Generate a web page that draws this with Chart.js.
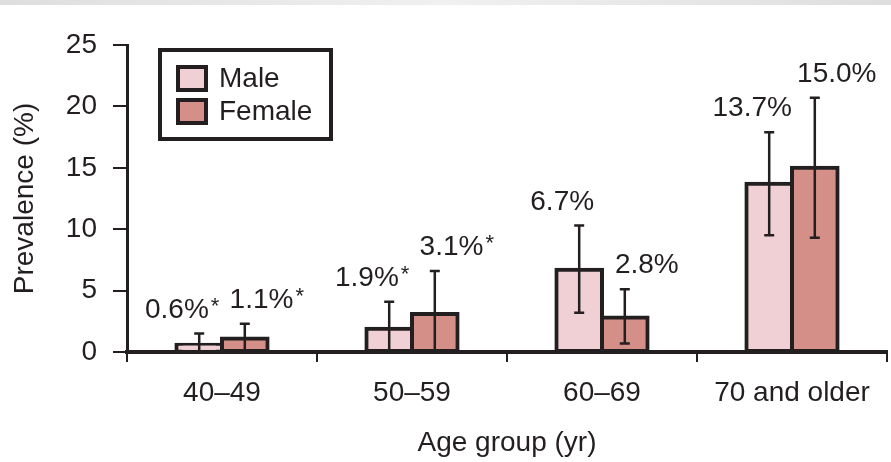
<!DOCTYPE html>
<html lang="en">
<head>
<meta charset="UTF-8">
<title>Prevalence by age group</title>
<script src="https://cdn.jsdelivr.net/npm/chart.js"></script>
<style>
  html, body { margin: 0; padding: 0; background: #ffffff; }
  .wrap { position: relative; width: 891px; height: 462px; }
  .strip { position: absolute; left: 0; top: 0; width: 891px; height: 5px;
           background: linear-gradient(to right, #dedede, #f0f0f0 50%, #dedede); }
</style>
</head>
<body>
<div class="wrap">
  <canvas id="chart" width="891" height="462"></canvas>
  <div class="strip"></div>
</div>
<script>
// data
const ageGroups = ['40\u201349', '50\u201359', '60\u201369', '70 and older'];
const maleValues = [0.6, 1.9, 6.7, 13.7];
const femaleValues = [1.1, 3.1, 2.8, 15.0];
const maleLow = [0, 0, 3.2, 9.5];
const maleHigh = [1.5, 4.1, 10.3, 17.9];
const femaleLow = [0, 0, 0.7, 9.3];
const femaleHigh = [2.3, 6.6, 5.1, 20.7];
const maleLabels = ['0.6%*', '1.9%*', '6.7%', '13.7%'];
const femaleLabels = ['1.1%*', '3.1%*', '2.8%', '15.0%'];
const yTicks = [0, 5, 10, 15, 20, 25];

const ink = '#231f20';
const font = 'Liberation Sans, Arial, sans-serif';
const fs = 28;

// error bars + value labels drawn on top of the bars
const errorBars = {
  id: 'errorBars',
  afterDatasetsDraw(chart) {
    const ctx = chart.ctx;
    const y = chart.scales.y;
    chart.data.datasets.forEach((ds, di) => {
      const meta = chart.getDatasetMeta(di);
      meta.data.forEach((bar, i) => {
        const top = y.getPixelForValue(ds.errHigh[i]);
        const bot = y.getPixelForValue(ds.errLow[i]);
        ctx.save();
        ctx.strokeStyle = ink;
        ctx.lineWidth = 2.5;
        ctx.beginPath();
        ctx.moveTo(bar.x, top); ctx.lineTo(bar.x, bot);
        ctx.moveTo(bar.x - 5, top); ctx.lineTo(bar.x + 5, top);
        if (ds.errLow[i] > 0) { ctx.moveTo(bar.x - 5, bot); ctx.lineTo(bar.x + 5, bot); }
        ctx.stroke();

        // value label
        let txt = ds.valueLabels[i];
        const star = txt.endsWith('*');
        if (star) txt = txt.slice(0, -1);
        ctx.font = fs + 'px ' + font;
        const w1 = ctx.measureText(txt).width;
        ctx.font = '22px ' + font;
        const w2 = star ? ctx.measureText('*').width + 2 : 0;
        const cx = bar.x + ds.labelShift;
        const x0 = cx - (w1 + w2) / 2;
        const base = top - 16;
        ctx.fillStyle = ink;
        ctx.textAlign = 'left';
        ctx.textBaseline = 'alphabetic';
        ctx.font = fs + 'px ' + font;
        ctx.fillText(txt, x0, base);
        if (star) {
          ctx.font = '22px ' + font;
          ctx.fillText('*', x0 + w1 + 2, base - 5);
        }
        ctx.restore();
      });
    });
  }
};

// boxed legend in the upper left
const boxLegend = {
  id: 'boxLegend',
  afterDraw(chart) {
    const ctx = chart.ctx;
    ctx.save();
    ctx.strokeStyle = ink;
    ctx.lineWidth = 4;
    ctx.strokeRect(160, 50, 171, 89);
    chart.data.datasets.forEach((ds, i) => {
      const sy = 67 + i * 33;
      ctx.fillStyle = ds.backgroundColor;
      ctx.fillRect(178, sy, 28, 23);
      ctx.lineWidth = 4;
      ctx.strokeRect(178, sy, 28, 23);
      ctx.fillStyle = ink;
      ctx.font = fs + 'px ' + font;
      ctx.textBaseline = 'middle';
      ctx.textAlign = 'left';
      ctx.fillText(ds.label, 219, sy + 12);
    });
    ctx.restore();
  }
};

new Chart(document.getElementById('chart'), {
  type: 'bar',
  data: {
    labels: ageGroups,
    datasets: [{
      label: 'Male',
      data: maleValues,
      errLow: maleLow,
      errHigh: maleHigh,
      valueLabels: maleLabels,
      labelShift: -17,
      backgroundColor: '#f0d0d4',
      borderColor: ink,
      borderWidth: 4,
      borderSkipped: false,
      inflateAmount: 2,
      categoryPercentage: 0.48,
      barPercentage: 1.0
    }, {
      label: 'Female',
      data: femaleValues,
      errLow: femaleLow,
      errHigh: femaleHigh,
      valueLabels: femaleLabels,
      labelShift: 22,
      backgroundColor: '#d48f88',
      borderColor: ink,
      borderWidth: 4,
      borderSkipped: false,
      inflateAmount: 2,
      categoryPercentage: 0.48,
      barPercentage: 1.0
    }]
  },
  options: {
    responsive: false,
    animation: false,
    layout: { padding: { top: 45, right: 4, bottom: 0, left: 0 } },
    plugins: {
      legend: { display: false },
      tooltip: { enabled: false }
    },
    scales: {
      x: {
        afterFit: s => { s.height = 110; },
        grid: { offset: true, drawOnChartArea: false, drawTicks: true, tickLength: 10, color: ink, lineWidth: 2 },
        border: { display: true, color: ink, width: 4 },
        ticks: { color: ink, font: { family: font, size: fs }, padding: 14, maxRotation: 0 },
        title: { display: true, text: 'Age group (yr)', color: ink, font: { family: font, size: fs }, padding: { top: 4, bottom: 2 } }
      },
      y: {
        min: 0,
        max: 25,
        afterFit: s => { s.width = 127; },
        afterBuildTicks: s => { s.ticks = yTicks.map(v => ({ value: v })); },
        grid: { drawOnChartArea: false, drawTicks: true, tickLength: 14, color: ink, lineWidth: 2 },
        border: { display: true, color: ink, width: 3 },
        ticks: { color: ink, font: { family: font, size: fs }, padding: 16 },
        title: { display: true, text: 'Prevalence (%)', color: ink, font: { family: font, size: fs }, padding: { top: 8, bottom: 0 } }
      }
    }
  },
  plugins: [errorBars, boxLegend]
});
</script>
</body>
</html>
